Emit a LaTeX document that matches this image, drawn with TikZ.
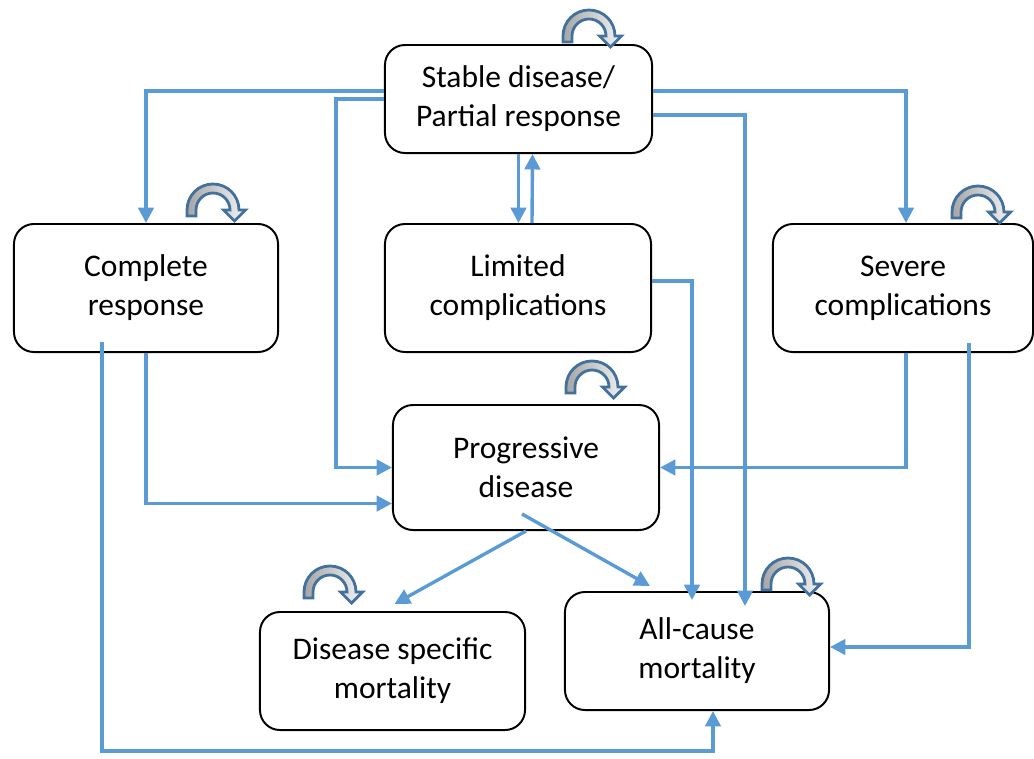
\documentclass[tikz,border=0pt]{standalone}
\usepackage{fontspec}
\setmainfont{Carlito}
\usetikzlibrary{arrows.meta,calc}

\definecolor{flowblue}{HTML}{5B9BD5}
\definecolor{loopblue}{HTML}{41719C}

\tikzset{
  state/.style={draw,line width=1.4pt,rounded corners=0.5cm,align=center,
    font=\fontsize{22.4pt}{27.7pt}\selectfont},
  flow/.style={draw=flowblue,line width=2.4pt,
    -{Triangle[length=11pt,width=11pt]}},
  selfloop/.pic={
    \draw[loopblue,line width=2pt,left color=gray!70,right color=gray!10]
      (0,0) -- (0,-6) .. controls (0,-20.4) and (11.6,-32) .. (26,-32)
      .. controls (40.4,-32) and (52,-20.4) .. (52,-6) -- (58.5,-6) -- (47.5,5)
      -- (36.5,-6) -- (43,-6) .. controls (43,-15.4) and (35.4,-23) .. (26,-23)
      .. controls (16.6,-23) and (9,-15.4) .. (9,-6) -- (9,0) -- cycle;
  }
}

\begin{document}
\begin{tikzpicture}[x=0.025cm,y=-0.025cm]

\useasboundingbox (0,0) rectangle (1034,758);

\node[state,minimum width=6.675cm,minimum height=2.7cm] (sd) at (518.5,99) {Stable disease/\\Partial response};
\node[state,minimum width=6.6cm,minimum height=3.2cm] (cr) at (146,288) {Complete\\response};
\node[state,minimum width=6.65cm,minimum height=3.2cm] (lc) at (518,288) {Limited\\complications};
\node[state,minimum width=6.5cm,minimum height=3.2cm] (sc) at (903,288) {Severe\\complications};
\node[state,minimum width=6.65cm,minimum height=3.125cm] (pd) at (526,467.5) {Progressive\\disease};
\node[state,minimum width=6.625cm,minimum height=2.95cm] (ds) at (392.5,671) {Disease specific\\mortality};
\node[state,minimum width=6.6cm,minimum height=2.95cm] (ac) at (697,651) {All-cause\\mortality};

% self transitions
\pic at (563,42) {selfloop};
\pic at (187,216) {selfloop};
\pic at (566,393) {selfloop};
\pic at (952,218) {selfloop};
\pic at (304,598) {selfloop};
\pic at (762,590) {selfloop};

\draw[flow] ([yshift=0.2cm]sd.west) -| (cr.north);
\draw[flow] (sd.west) -| ([xshift=-1.4cm]pd.west) -- (pd.west);
\draw[flow] ([yshift=0.2cm]sd.east) -| ([xshift=0.075cm]sc.north);
\draw[flow] ([yshift=-0.4cm]sd.east) -| ([xshift=1.2cm,yshift=-0.375cm]ac.north);
\draw[flow] (sd.south) -- (sd.south |- lc.north);
\draw[flow] ([xshift=0.35cm]lc.north) -- ([xshift=0.35cm]sd.south);
\draw[flow] ([yshift=0.175cm]lc.east) -| ([xshift=-0.125cm,yshift=-0.225cm]ac.north);
\draw[flow] (cr.south) |- ([yshift=-0.9cm]pd.west);
\draw[flow] ([xshift=-1.1cm,yshift=0.275cm]cr.south) |- ([xshift=0.4cm,yshift=-1cm]ac.south) -- ([xshift=0.4cm]ac.south);
\draw[flow] ([xshift=0.075cm]sc.south) |- (pd.east);
\draw[flow] ([xshift=1.65cm,yshift=0.25cm]sc.south) |- ([yshift=0.1cm]ac.east);
\draw[flow] (pd.south) -- ([xshift=0.05cm,yshift=0.175cm]ds.north);
\draw[flow] ([xshift=-0.1cm,yshift=0.425cm]pd.south) -- ([xshift=-1.175cm,yshift=0.125cm]ac.north);

\end{tikzpicture}
\end{document}
